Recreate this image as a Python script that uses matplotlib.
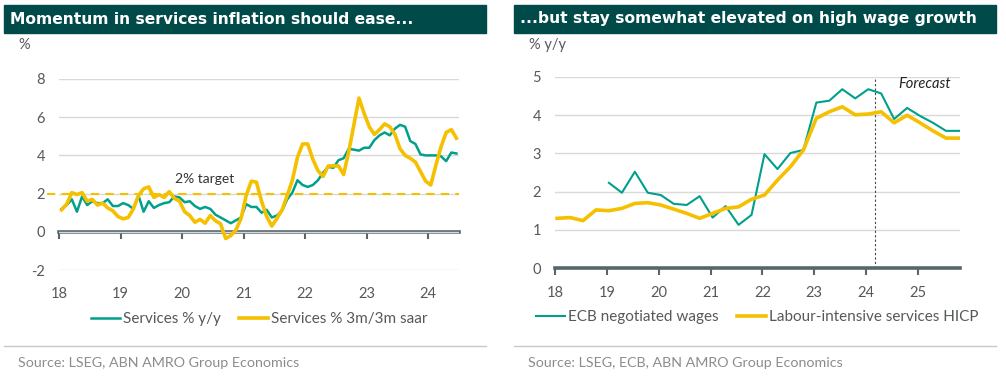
import numpy as np
import pandas as pd
import matplotlib
matplotlib.use("Agg")
import matplotlib.pyplot as plt
from matplotlib.patches import Rectangle

plt.rcParams['font.family'] = ['Lato', 'DejaVu Sans']

########## data ###############################################################
# left: monthly, Jan 2018 - Jun 2024
serv_yy = [1.2, 1.4, 1.7, 1.05, 1.85, 1.4, 1.6, 1.5, 1.5, 1.7, 1.35, 1.35,
           1.5, 1.4, 1.2, 1.9, 1.05, 1.6, 1.25, 1.4, 1.5, 1.55, 1.85, 1.8,
           1.55, 1.6, 1.35, 1.2, 1.3, 1.2, 0.9, 0.75, 0.6, 0.45, 0.6, 0.75,
           1.45, 1.3, 1.3, 1.0, 1.15, 0.75, 0.85, 1.1, 1.7, 2.05, 2.7, 2.45,
           2.35, 2.45, 2.7, 3.1, 3.4, 3.35, 3.75, 3.85, 4.35, 4.3, 4.25, 4.4,
           4.4, 4.8, 5.05, 5.2, 5.05, 5.4, 5.6, 5.5, 4.75, 4.6, 4.05, 4.0,
           4.0, 4.0, 3.95, 3.7, 4.15, 4.1]
serv_3m3m = [1.15, 1.45, 2.05, 1.95, 2.05, 1.6, 1.7, 1.4, 1.5, 1.25, 1.1, 0.8,
             0.68, 0.75, 1.2, 1.9, 2.25, 2.35, 1.8, 1.95, 1.8, 2.1, 1.75, 1.6,
             1.05, 0.85, 0.5, 0.65, 0.45, 0.85, 0.58, 0.42, -0.35, -0.2, 0.1, 0.7,
             1.9, 2.65, 2.6, 1.6, 0.8, 0.3, 0.7, 1.15, 1.9, 2.7, 3.9, 4.6,
             4.6, 3.8, 3.2, 2.9, 3.45, 3.45, 3.45, 3.0, 4.2, 5.6, 7.0, 6.2,
             5.5, 5.1, 5.35, 5.65, 5.5, 5.1, 4.35, 4.0, 3.85, 3.65, 3.15, 2.65,
             2.45, 3.5, 4.45, 5.2, 5.35, 4.9]
months = pd.date_range("2018-01-01", periods=len(serv_yy), freq="MS")

# right: quarterly
wages = [2.23, 1.97, 2.52, 1.97, 1.91, 1.68, 1.65, 1.88, 1.32, 1.62, 1.13, 1.39,
         2.98, 2.59, 3.01, 3.09, 4.33, 4.38, 4.68, 4.44, 4.68, 4.57, 3.90, 4.19,
         3.98, 3.80, 3.59, 3.59]
wages_q = pd.period_range("2019Q1", periods=len(wages), freq="Q")
lab_serv = [1.30, 1.32, 1.24, 1.52, 1.50, 1.56, 1.69, 1.71, 1.65, 1.54, 1.43, 1.30,
            1.43, 1.56, 1.60, 1.80, 1.91, 2.30, 2.65, 3.09, 3.92, 4.09, 4.22, 4.01,
            4.03, 4.09, 3.80, 4.00, 3.80, 3.59, 3.40, 3.40]
lab_q = pd.period_range("2018Q1", periods=len(lab_serv), freq="Q")
forecast_start = 24.17

yr_ticks_left = [18, 19, 20, 21, 22, 23, 24]
yr_ticks_right = [18, 19, 20, 21, 22, 23, 24, 25]

########## helpers ############################################################
def dec_month(d):
    return d.year - 2000 + (d.month - 0.5) / 12

def dec_quarter(p):
    return p.year - 2000 + (p.quarter - 1) / 4 + 0.04

TEAL = "#00a08a"
YELLOW = "#f5c000"
BANNER = "#004a4a"
AXIS = "#56666b"
GRID = "#d9d9d9"
TXT = "#55595c"

W, H = 1006, 383
fig = plt.figure(figsize=(W / 100, H / 100), dpi=100)

def fx(px):
    return px / W

def fy(py):
    return 1 - py / H

# banners + separators + sources
for x0, x1, title, src in [(4, 486, "Momentum in services inflation should ease...", "Source: LSEG, ABN AMRO Group Economics"),
                           (514, 996, "...but stay somewhat elevated on high wage growth", "Source: LSEG, ECB, ABN AMRO Group Economics")]:
    fig.patches.append(Rectangle((fx(x0), fy(33)), fx(x1 - x0), 28 / H, transform=fig.transFigure,
                                 color=BANNER, zorder=0))
    fig.text(fx(x0 + 6), fy(19), title, color="white", fontsize=11.2, fontweight="heavy",
             family=["DejaVu Sans"], va="center", ha="left")
    fig.lines.append(plt.Line2D([fx(x0), fx(x1)], [fy(346), fy(346)], transform=fig.transFigure,
                                color="#c8c8c8", lw=1))
    fig.text(fx(x0 + 14), fy(363), src, color="#8a8d8f", fontsize=10.3, va="center", ha="left")

########## left chart #########################################################
ax = fig.add_axes([fx(59), fy(270), fx(400), 191 / H])
xl = [dec_month(d) for d in months]
ax.axhline(2, color=YELLOW, lw=1.5, ls=(0, (4, 3)), xmin=-0.03, clip_on=False, zorder=2)
ax.plot(xl, serv_yy, color=TEAL, lw=1.8, label="Services % y/y", zorder=3)
ax.plot(xl, serv_3m3m, color=YELLOW, lw=2.6, label="Services % 3m/3m saar", zorder=4)
ax.set_xlim(18, 24.5)
ax.set_ylim(-2, 8)
ax.set_yticks([-2, 0, 2, 4, 6, 8])
ax.set_yticklabels(["-2", "0", "2", "4", "6", "8"])
ax.grid(axis="y", color=GRID, lw=1)
ax.set_axisbelow(True)
ax.set_xticks(yr_ticks_left)
ax.set_xticklabels([str(y) for y in yr_ticks_left])
ax.tick_params(axis="both", length=0, labelsize=10.5, labelcolor=TXT, pad=10)
ax.tick_params(axis="x", pad=12)
for s in ax.spines.values():
    s.set_visible(False)
sec = ax.secondary_xaxis(0.2)
sec.set_xticks(yr_ticks_left)
sec.set_xticklabels([])
sec.spines["bottom"].set_color(AXIS)
sec.spines["bottom"].set_linewidth(2.6)
sec.tick_params(axis="x", length=5, width=1.5, color=AXIS)
ax.text(19.88, 2.45, "2% target", fontsize=10, color="#333333", va="bottom")
fig.text(fx(18), fy(45), "%", fontsize=10.5, color=TXT, va="center")
ax.legend(loc="upper center", bbox_to_anchor=(0.5, -0.15), ncol=2, frameon=False,
          fontsize=11, labelcolor=TXT, handlelength=1.9, handletextpad=0.2, columnspacing=1.2)

########## right chart ########################################################
ax2 = fig.add_axes([fx(555), fy(268), fx(405), 191 / H])
ax2.plot([dec_quarter(p) for p in wages_q], wages, color=TEAL, lw=1.5, label="ECB negotiated wages", zorder=3)
ax2.plot([dec_quarter(p) for p in lab_q], lab_serv, color=YELLOW, lw=2.6,
         label="Labour-intensive services HICP", zorder=4)
ax2.axvline(forecast_start, color="#444444", lw=0.8, ls=(0, (2, 2)), zorder=2)
ax2.text(24.62, 4.72, "Forecast", fontsize=10.5, style="italic", color="#222222")
ax2.set_xlim(18, 25.81)
ax2.set_ylim(0, 5)
ax2.set_yticks([0, 1, 2, 3, 4, 5])
ax2.grid(axis="y", color=GRID, lw=1)
ax2.set_axisbelow(True)
ax2.set_xticks(yr_ticks_right)
ax2.set_xticklabels([str(y) for y in yr_ticks_right])
ax2.tick_params(axis="y", length=0, labelsize=10.5, labelcolor=TXT, pad=10)
ax2.tick_params(axis="x", length=5, width=1.5, color=AXIS, labelsize=10.5, labelcolor=TXT, pad=8)
for s in ["top", "right", "left"]:
    ax2.spines[s].set_visible(False)
ax2.spines["bottom"].set_color(AXIS)
ax2.spines["bottom"].set_linewidth(2.6)
fig.text(fx(529), fy(45), "% y/y", fontsize=10.5, color=TXT, va="center")
ax2.legend(loc="upper center", bbox_to_anchor=(0.5, -0.15), ncol=2, frameon=False,
           fontsize=11, labelcolor=TXT, handlelength=1.9, handletextpad=0.2, columnspacing=1.2)

fig.savefig("out.png", dpi=100, facecolor="white")
